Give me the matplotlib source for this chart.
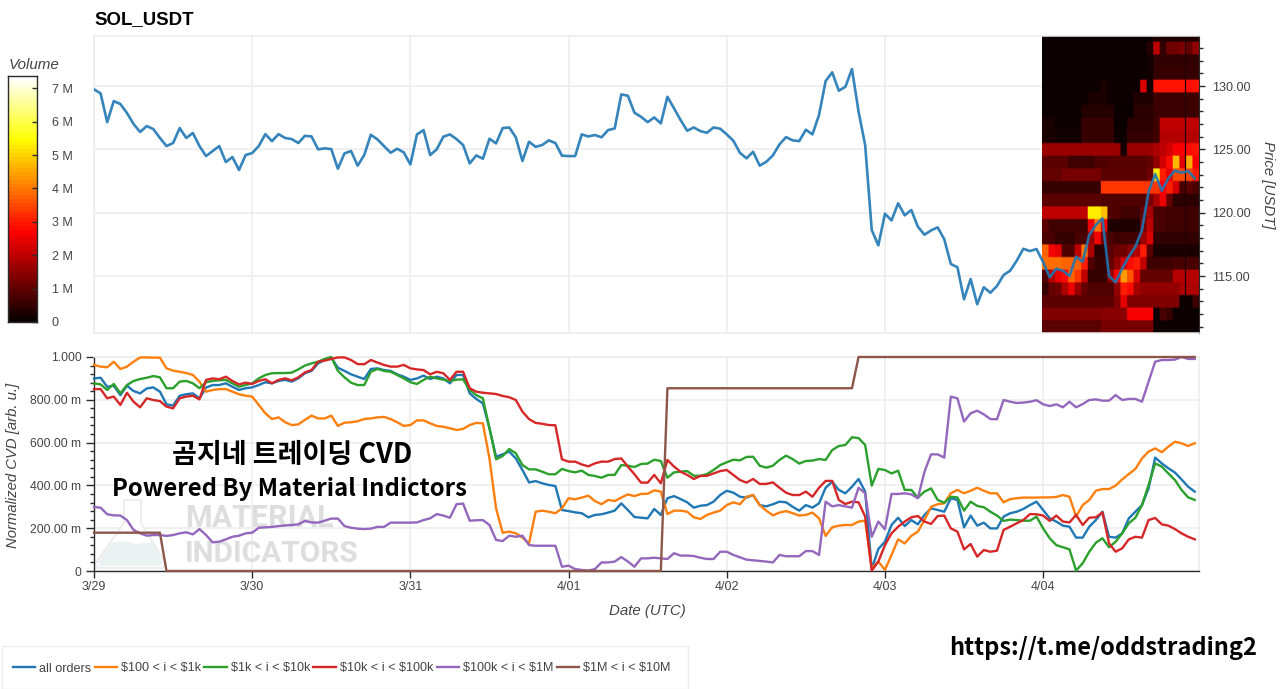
import numpy as np
import matplotlib
matplotlib.use("Agg")
import matplotlib.pyplot as plt
from matplotlib.patches import Polygon, Rectangle
from matplotlib.ticker import MultipleLocator, FixedLocator

plt.rcParams['font.family'] = ['Liberation Sans', 'DejaVu Sans']

title = "SOL_USDT"
day_labels = ["3/29", "3/30", "3/31", "4/01", "4/02", "4/03", "4/04"]
price_ticks = [115, 120, 125, 130]
cvd_ticks = [0, 0.2, 0.4, 0.6, 0.8, 1.0]
cvd_tick_labels = ["0", "200.00 m", "400.00 m", "600.00 m", "800.00 m", "1.000"]
vol_ticks = [0, 1, 2, 3, 4, 5, 6, 7]
vol_tick_labels = ["0", "1 M", "2 M", "3 M", "4 M", "5 M", "6 M", "7 M"]

price = [129.74,129.42,127.15,128.81,128.58,127.87,127.0,126.37,126.84,126.6,125.9,125.26,125.5,126.68,125.9,126.29,125.26,124.47,124.87,125.26,124.0,124.39,123.37,124.55,
124.71,125.26,126.2,125.65,126.2,125.9,125.81,125.5,126.07,126.02,125.0,125.08,125.02,123.47,124.68,124.87,123.71,124.55,126.15,125.79,125.26,124.73,125.05,124.76,
123.81,126.18,126.52,124.55,125.0,126.0,126.18,125.81,125.34,123.89,124.52,124.26,125.84,125.47,126.68,126.73,125.95,124.08,125.6,125.2,125.34,125.71,125.5,124.5,
124.47,124.47,126.18,126.02,126.13,125.95,126.52,126.65,129.34,129.23,127.89,127.57,127.15,127.52,127.05,129.15,128.24,127.31,126.47,126.73,126.44,126.31,126.73,126.63,
126.18,125.68,124.73,124.29,124.81,123.71,124.02,124.52,125.39,125.97,125.71,125.65,126.55,126.18,127.71,130.39,131.08,129.63,129.94,131.34,127.97,125.34,118.63,117.42,
119.92,119.39,120.74,119.79,120.21,118.89,118.26,118.6,118.84,117.9,115.95,115.69,113.16,114.76,112.77,114.11,113.68,114.21,115.08,115.42,116.21,117.15,116.97,117.13,
116.1,114.9,115.58,115.42,115.0,116.53,116.13,118.24,119.03,119.55,115.0,114.5,115.6,116.53,117.32,118.63,121.66,123.05,121.74,122.71,123.32,123.16,123.29,122.71]

all_orders = [.90,.903,.861,.866,.822,.866,.841,.83,.853,.858,.838,.779,.773,.819,.826,.83,.807,.857,.869,.869,.877,.861,.846,.854,
.858,.869,.882,.877,.888,.893,.885,.90,.924,.935,.97,.986,.997,.95,.935,.919,.908,.897,.944,.947,.939,.935,.919,.908,
.893,.90,.913,.897,.908,.90,.877,.916,.916,.83,.804,.783,.667,.534,.545,.558,.526,.472,.414,.42,.41,.402,.397,.285,
.28,.274,.27,.251,.262,.265,.273,.282,.316,.285,.252,.249,.246,.29,.262,.34,.35,.336,.321,.296,.305,.308,.324,.355,
.375,.366,.347,.343,.355,.308,.302,.312,.324,.321,.30,.282,.308,.296,.316,.389,.417,.379,.363,.394,.43,.371,.009,.103,
.137,.215,.249,.21,.238,.218,.262,.293,.285,.277,.34,.332,.204,.259,.212,.226,.199,.199,.254,.27,.277,.29,.308,.324,
.285,.246,.231,.212,.207,.156,.156,.207,.238,.277,.16,.156,.176,.246,.277,.308,.386,.53,.503,.48,.46,.428,.394,.371]

orders_100_1k = [.963,.955,.952,.978,.944,.955,.978,.998,.998,.997,.997,.947,.936,.931,.925,.916,.885,.838,.846,.85,.85,.838,.826,.819,
.815,.776,.737,.71,.718,.695,.682,.685,.706,.726,.713,.713,.726,.678,.693,.695,.70,.71,.713,.718,.72,.71,.695,.678,
.682,.704,.704,.69,.678,.674,.667,.659,.664,.682,.692,.69,.526,.293,.179,.184,.176,.156,.129,.277,.282,.277,.27,.293,
.34,.335,.343,.352,.327,.312,.332,.327,.343,.358,.35,.36,.361,.377,.371,.266,.282,.282,.277,.251,.243,.262,.273,.282,
.308,.321,.312,.347,.355,.308,.282,.26,.273,.28,.27,.259,.262,.273,.246,.164,.204,.212,.215,.215,.231,.235,.012,.044,
.005,.075,.148,.129,.164,.184,.238,.30,.312,.316,.363,.379,.363,.375,.389,.375,.363,.363,.321,.336,.34,.343,.343,.343,
.344,.344,.346,.355,.347,.254,.308,.332,.375,.383,.383,.399,.428,.453,.477,.526,.558,.573,.555,.581,.604,.597,.584,.597]

orders_1k_10k = [.877,.872,.846,.874,.83,.869,.888,.897,.903,.911,.905,.854,.854,.885,.888,.877,.854,.882,.888,.891,.893,.877,.861,.869,
.877,.90,.916,.924,.925,.925,.927,.942,.96,.97,.978,.991,1.0,.935,.905,.88,.869,.869,.931,.944,.935,.931,.916,.90,
.882,.874,.893,.908,.90,.894,.888,.894,.896,.846,.822,.807,.667,.522,.537,.57,.55,.495,.475,.475,.464,.452,.452,.477,
.467,.461,.469,.449,.444,.436,.449,.449,.495,.492,.486,.50,.502,.52,.514,.436,.461,.464,.467,.445,.445,.453,.472,.495,
.508,.52,.517,.533,.534,.492,.483,.492,.519,.539,.523,.502,.514,.516,.523,.519,.565,.584,.589,.625,.621,.589,.399,.477,
.472,.456,.469,.379,.379,.343,.371,.386,.332,.319,.347,.344,.282,.324,.304,.298,.277,.259,.234,.24,.238,.235,.235,.254,
.199,.153,.121,.111,.101,.002,.036,.09,.132,.153,.111,.137,.176,.223,.249,.308,.402,.503,.488,.456,.425,.379,.344,.332]

orders_10k_100k = [.85,.85,.807,.815,.776,.833,.791,.765,.807,.799,.794,.768,.76,.807,.815,.819,.802,.893,.90,.896,.908,.888,.872,.88,
.874,.888,.896,.877,.893,.90,.891,.905,.928,.939,.978,.983,.991,.998,.998,.986,.967,.966,.986,.974,.963,.955,.955,.963,
.947,.942,.939,.919,.931,.924,.893,.931,.931,.854,.838,.833,.83,.827,.818,.812,.799,.745,.71,.692,.688,.682,.681,.522,
.511,.511,.498,.489,.503,.511,.511,.523,.526,.488,.452,.413,.413,.449,.41,.519,.488,.464,.449,.43,.444,.445,.456,.467,
.472,.449,.425,.413,.43,.407,.407,.414,.389,.366,.355,.355,.371,.347,.389,.421,.421,.332,.313,.324,.321,.254,.002,.044,
.121,.176,.207,.231,.251,.257,.231,.22,.257,.259,.199,.184,.101,.126,.067,.098,.09,.095,.192,.207,.223,.238,.266,.265,
.259,.234,.259,.231,.227,.262,.215,.249,.251,.274,.129,.09,.106,.148,.16,.156,.238,.248,.218,.212,.196,.176,.16,.148]

orders_100k_1m = [.299,.296,.265,.26,.259,.238,.192,.176,.165,.168,.168,.164,.168,.176,.181,.171,.196,.168,.134,.137,.148,.16,.165,.176,
.179,.202,.204,.206,.21,.213,.215,.218,.234,.227,.226,.235,.245,.245,.21,.202,.198,.196,.198,.206,.206,.226,.226,.226,
.226,.227,.238,.246,.266,.259,.249,.312,.315,.235,.237,.238,.215,.145,.14,.165,.16,.165,.121,.118,.118,.118,.118,.02,
.025,.009,.005,.002,.009,.04,.04,.044,.065,.044,.02,.059,.059,.062,.059,.056,.083,.072,.072,.07,.062,.056,.056,.09,
.09,.075,.064,.053,.05,.047,.044,.04,.075,.069,.069,.069,.093,.093,.075,.324,.302,.308,.302,.296,.389,.363,.16,.231,
.195,.36,.36,.363,.358,.34,.464,.545,.545,.53,.815,.807,.698,.737,.749,.732,.71,.709,.799,.791,.785,.787,.791,.798,
.779,.771,.779,.765,.791,.765,.78,.799,.802,.796,.796,.822,.799,.804,.804,.791,.885,.978,.986,.986,.988,1.0,.991,.991]

orders_1m_10m = [.179,.179,.179,.179,.179,.179,.179,.179,.179,.179,.179,0,0,0,0,0,0,0,0,0,0,0,0,0,
0,0,0,0,0,0,0,0,0,0,0,0,0,0,0,0,0,0,0,0,0,0,0,0,
0,0,0,0,0,0,0,0,0,0,0,0,0,0,0,0,0,0,0,0,0,0,0,0,
0,0,0,0,0,0,0,0,0,0,0,0,0,0,0,.854,.854,.854,.854,.854,.854,.854,.854,.854,
.854,.854,.854,.854,.854,.854,.854,.854,.854,.854,.854,.854,.854,.854,.854,.854,.854,.854,.854,.854,1,1,1,1,
1,1,1,1,1,1,1,1,1,1,1,1,1,1,1,1,1,1,1,1,1,1,1,1,
1,1,1,1,1,1,1,1,1,1,1,1,1,1,1,1,1,1,1,1,1,1,1,1]

series_names = ["all orders", "$100 < i < $1k", "$1k < i < $10k", "$10k < i < $100k", "$100k < i < $1M", "$1M < i < $10M"]
series_values = [all_orders, orders_100_1k, orders_1k_10k, orders_10k_100k, orders_100k_1m, orders_1m_10m]
series_colors = ["#1f77b4", "#ff7f0e", "#2ca02c", "#d62728", "#9467bd", "#8c564b"]

# volume heat map, rows from 111 USDT up to 134 USDT, one column per hour of the last day
vol_111 = [.9,.9,.9,.9,.9,.9,.9,.9,.9,1.2,1.2,1.2,1.2,1.2,1.2,1.2,1.2,.03,.03,.03,.03,.03,.03,.03]
vol_112 = [1.3,1.3,1.3,1.3,1.3,1.3,1.3,1.3,1.3,1.4,1.4,1.4,1.4,2.6,2.6,2.6,2.6,.05,.7,.5,.03,.03,.03,.03]
vol_113 = [.9,.9,.9,.9,.9,.9,.9,.9,.9,.9,.9,1.3,2.4,1.3,1.3,1.3,1.3,1.3,1.3,1.3,1.3,.03,.03,.6]
vol_114 = [.5,1,1.1,1.8,2.5,1.6,1,.8,.8,.8,.8,1.5,3,2.8,1.7,1.5,1.5,1.5,1.5,1.5,1.5,1.8,1.8,1.8]
vol_115 = [.8,1.9,2.5,2.8,3.8,3.3,2,.5,.5,.5,1.5,2.7,4.4,3.6,2.3,1,1,1,1,1,1.9,1.9,1.9,1.9]
vol_116 = [3.9,3.9,3.9,3.8,3.8,3.8,3,.8,.5,.5,1,1.5,2.2,2.8,3,2,.6,.6,.6,.6,.7,.7,.7,.7]
vol_117 = [3.8,2.6,2.4,.8,.8,2,4,1.8,.4,.4,.9,1.1,1.1,1.4,1.9,3,.9,.2,.2,.2,.2,.2,.2,.2]
vol_118 = [.7,.7,.5,.5,.5,.7,.7,1.6,2.6,1.2,.7,.6,.6,.6,.6,1.6,2.3,.45,.45,.45,.45,.45,.45,.45]
vol_119 = [.9,.6,.6,.6,.6,.6,.6,2.5,4,2.5,.25,.25,.25,.25,.25,1.2,2,.7,.7,.6,.6,.6,.6,.6]
vol_120 = [2,2,2,2,2,2,2,5.3,5.3,4.8,.8,.8,.6,.6,.6,1,1.7,.7,.7,.6,.6,.6,.6,.6]
vol_121 = [.9,.9,.9,.9,.9,.9,.9,.9,.9,.8,.8,.8,.8,.8,.8,.8,1.2,1.8,2.5,1,.35,.35,.35,.35]
vol_122 = [.5,.5,.5,.5,.5,.5,.5,.5,.5,3.3,3.3,3.3,3.3,3.3,3.3,3.3,3.3,3.3,2.7,3,2.2,.7,.9,.7]
vol_123 = [1,1,1,1.2,1.2,1.2,1.2,1.2,1.2,.9,.9,.9,.9,.9,.9,.9,1.1,5.3,3,2.4,3.5,3.5,3.4,3]
vol_124 = [.9,.9,.9,.9,.6,.6,.6,.6,.8,.8,.85,.85,.85,.85,.85,.85,1,1.5,2.2,2.8,4.7,2.4,4.6,2.6]
vol_125 = [1.6,1.6,1.6,1.6,1.6,1.6,1.6,1.6,1.6,1.6,1.6,1.6,.15,1.6,1.6,1.6,1.6,1.8,2,2.2,2.6,2.6,2.8,2.9]
vol_126 = [.2,.2,.1,.1,.1,.1,.5,.5,.5,.5,.5,.03,.03,.5,.5,.5,.5,.6,1.9,1.9,1.9,1.9,1.9,1.9]
vol_127 = [.2,.2,.03,.03,.03,.03,.5,.5,.5,.5,.5,.02,.02,.4,.4,.4,.4,.6,2,2,2,2,2,2]
vol_128 = [.03,.03,.03,.03,.03,.03,.3,.3,.3,.3,.3,.02,.02,.02,.35,.35,.35,.55,.55,.55,.55,.55,.55,.55]
vol_129 = [.03,.03,.03,.03,.03,.03,.03,.2,.2,.2,.03,.03,.03,.03,.25,.25,.25,.55,.55,.55,.55,.55,.55,.55]
vol_130 = [.03,.03,.03,.03,.03,.03,.03,.03,.03,.2,.03,.03,.03,.03,.03,2.3,.1,2.9,2.9,2.9,2.9,2.9,2.8,2.9]
vol_131 = [.03,.03,.03,.03,.03,.03,.03,.03,.03,.03,.03,.03,.03,.03,.03,.03,.1,.5,.5,.5,.5,.5,.5,.5]
vol_132 = [.03,.03,.03,.03,.03,.03,.03,.03,.03,.03,.03,.03,.03,.03,.03,.03,.1,.45,.45,.45,.45,.45,.45,.45]
vol_133 = [.03,.03,.03,.03,.03,.03,.03,.03,.03,.03,.03,.03,.03,.03,.03,.03,.3,2,.5,1.1,1.1,1.3,1,1.5]
vol_134 = [.02,.02,.02,.02,.02,.02,.02,.02,.02,.02,.02,.02,.02,.02,.02,.02,.02,.25,.25,.25,.25,.25,.25,.25]
vol_rows = [vol_111,vol_112,vol_113,vol_114,vol_115,vol_116,vol_117,vol_118,vol_119,vol_120,vol_121,vol_122,
            vol_123,vol_124,vol_125,vol_126,vol_127,vol_128,vol_129,vol_130,vol_131,vol_132,vol_133,vol_134]
vol_max = 7.37

W, H = 1280, 689
fig = plt.figure(figsize=(W / 100, H / 100), dpi=100, facecolor="white")

def axes_px(x0, y0, x1, y1):
    return fig.add_axes([x0 / W, 1 - y1 / H, (x1 - x0) / W, (y1 - y0) / H])

def fx(x):
    return x / W

def fy(y):
    return 1 - y / H

TXT = "#444444"
GRID = "#ececec"
DARK = "#2b2b2b"
hours = np.arange(len(price))
day_ticks = np.arange(len(day_labels)) * 24
xmax = 167.65

# --- price panel
ax = axes_px(94, 36, 1199, 333)
ax.set_axisbelow(True)
ax.grid(True, color=GRID, lw=1.1)
ax.set_xticks(day_ticks)
ax.tick_params(axis="x", length=0, labelbottom=False)
ax.yaxis.tick_right()
ax.yaxis.set_major_locator(FixedLocator(price_ticks))
ax.set_yticklabels([f"{p:.2f}" for p in price_ticks])
ax.yaxis.set_minor_locator(MultipleLocator(1))
ax.tick_params(axis="y", which="major", length=4.6, width=1, color=DARK, labelsize=9.1, labelcolor=TXT, pad=5)
ax.tick_params(axis="y", which="minor", length=3.2, width=1, color=DARK)
for s in ("left", "top", "bottom"):
    ax.spines[s].set_color(GRID)
    ax.spines[s].set_linewidth(1.1)
ax.spines["right"].set_color(DARK)
ax.spines["right"].set_linewidth(0.8)

# cells are repeated so that the bilinear blur stays at the cell edges only
heat = np.repeat(np.repeat(np.array(vol_rows), 8, axis=0), 5, axis=1)
ax.imshow(heat, origin="lower", aspect="auto", cmap="hot", vmin=0, vmax=vol_max,
          extent=[143.85, xmax, 110.5, 134.5], interpolation="bilinear", zorder=2)
ax.plot([165.55, 165.55], [113.4, 134], color="#200000", lw=0.9, zorder=2.5)
ax.plot(hours, price, color="#1f77b4", lw=1.9, alpha=0.9, zorder=3, solid_joinstyle="round")
ax.set_xlim(0, xmax)
ax.set_ylim(110.5, 133.95)

fig.text(fx(94), fy(20), title, fontsize=13.4, fontweight="bold", color="black", va="center", ha="left")
fig.text(fx(1268), fy(185), "Price [USDT]", fontsize=10.8, style="italic", color=TXT, rotation=-90, va="center", ha="center")

# --- CVD panel
bx = axes_px(94, 357, 1199, 571)
bx.set_xlim(0, xmax)
bx.set_ylim(0, 1)
bx.set_axisbelow(True)
bx.grid(True, color=GRID, lw=1.1)
bx.set_xticks(day_ticks)
bx.set_xticklabels(day_labels)
bx.set_yticks(cvd_ticks)
bx.set_yticklabels(cvd_tick_labels)
bx.yaxis.set_minor_locator(MultipleLocator(0.04))
bx.tick_params(axis="x", which="major", length=5, width=1, color=DARK, labelsize=9, labelcolor=TXT, pad=2.5)
bx.tick_params(axis="y", which="major", length=5.5, width=1, color=DARK, labelsize=8.7, labelcolor=TXT, pad=3.5)
bx.tick_params(axis="y", which="minor", length=3.2, width=1, color=DARK)
for s in ("top", "right"):
    bx.spines[s].set_color(GRID)
    bx.spines[s].set_linewidth(1.1)
for s in ("left", "bottom"):
    bx.spines[s].set_color(DARK)
    bx.spines[s].set_linewidth(1)

lines = []
for name, vals, col in zip(series_names, series_values, series_colors):
    line, = bx.plot(hours, vals, color=col, lw=1.7, zorder=3, clip_on=False, solid_joinstyle="round",
                    label=name.replace("$", r"\$"))
    lines.append(line)

# watermark, under the lines
flask = Polygon([(fx(124), fy(500)), (fx(141), fy(500)), (fx(141), fy(523)), (fx(166), fy(564)), (fx(162), fy(568)),
                 (fx(98), fy(568)), (fx(95), fy(564)), (fx(124), fy(523))],
                closed=True, transform=fig.transFigure, facecolor="#ffffff", edgecolor="#eaeaea", lw=1.2, zorder=1, clip_on=False)
bx.add_patch(flask)
liquid = Polygon([(fx(110), fy(543)), (fx(122), fy(541)), (fx(136), fy(544)), (fx(152), fy(542)), (fx(163), fy(563)),
                  (fx(160), fy(566)), (fx(100), fy(566)), (fx(98), fy(563))],
                 closed=True, transform=fig.transFigure, facecolor="#ebf2f2", edgecolor="none", zorder=1.1, clip_on=False)
bx.add_patch(liquid)
wm_font = ["Roboto", "Liberation Sans"]
bx.text(fx(185), fy(518), "MATERIAL", transform=fig.transFigure, family=wm_font, fontweight="bold", fontsize=22,
        color="#dedede", va="center", ha="left", zorder=1.2)
bx.text(fx(185), fy(554), "INDICATORS", transform=fig.transFigure, family=wm_font, fontweight="bold", fontsize=21.5,
        color="#dedede", va="center", ha="left", zorder=1.2)

fig.text(fx(647), fy(611), "Date (UTC)", fontsize=10.8, style="italic", color=TXT, ha="center", va="center")
fig.text(fx(13), fy(465), "Normalized CVD [arb. u.]", fontsize=10.7, style="italic", color=TXT, rotation=90, ha="center", va="center")

# overlay captions
cjk = ["Noto Sans CJK KR", "DejaVu Sans"]
fig.text(fx(292), fy(455), "곰지네 트레이딩 CVD", family=cjk, fontweight="bold", fontsize=19.5, color="black", ha="center", va="center", zorder=5)
fig.text(fx(289), fy(489), "Powered By Material Indictors", family=cjk, fontweight="bold", fontsize=17.2, color="black", ha="center", va="center", zorder=5)
fig.text(fx(1103), fy(648), "https://t.me/oddstrading2", family=cjk, fontweight="bold", fontsize=17, color="black", ha="center", va="center", zorder=5)

# --- colour bar
cx = axes_px(8, 76, 37, 322)
gradient = np.linspace(0, vol_max, 64).reshape(-1, 1)
cx.imshow(gradient, origin="lower", aspect="auto", cmap="hot", vmin=0, vmax=vol_max, extent=[0, 1, 0, vol_max], interpolation="nearest")
cx.set_xticks([])
cx.yaxis.tick_right()
cx.set_yticks(vol_ticks)
cx.set_yticklabels(vol_tick_labels)
cx.tick_params(axis="y", direction="in", length=3.3, width=1, color=DARK, labelsize=9, labelcolor=TXT, pad=10.5)
for s in cx.spines.values():
    s.set_color(DARK)
    s.set_linewidth(1)
fig.text(fx(9), fy(65), "Volume", fontsize=10.9, style="italic", color=TXT, ha="left", va="center")

# --- legend
fig.add_artist(Rectangle((fx(2), fy(689)), (688 - 2) / W, (689 - 646) / H, transform=fig.transFigure,
                         facecolor="white", edgecolor="#eeeeee", lw=1))
leg = fig.legend(handles=lines, loc="center left", bbox_to_anchor=(fx(13), fy(668.5)), ncol=6, fontsize=9.05, frameon=False,
                 handlelength=1.78, handletextpad=0.3, columnspacing=0.28, borderpad=0, borderaxespad=0)
for t in leg.get_texts():
    t.set_color(TXT)

fig.savefig("out.png", dpi=100)
